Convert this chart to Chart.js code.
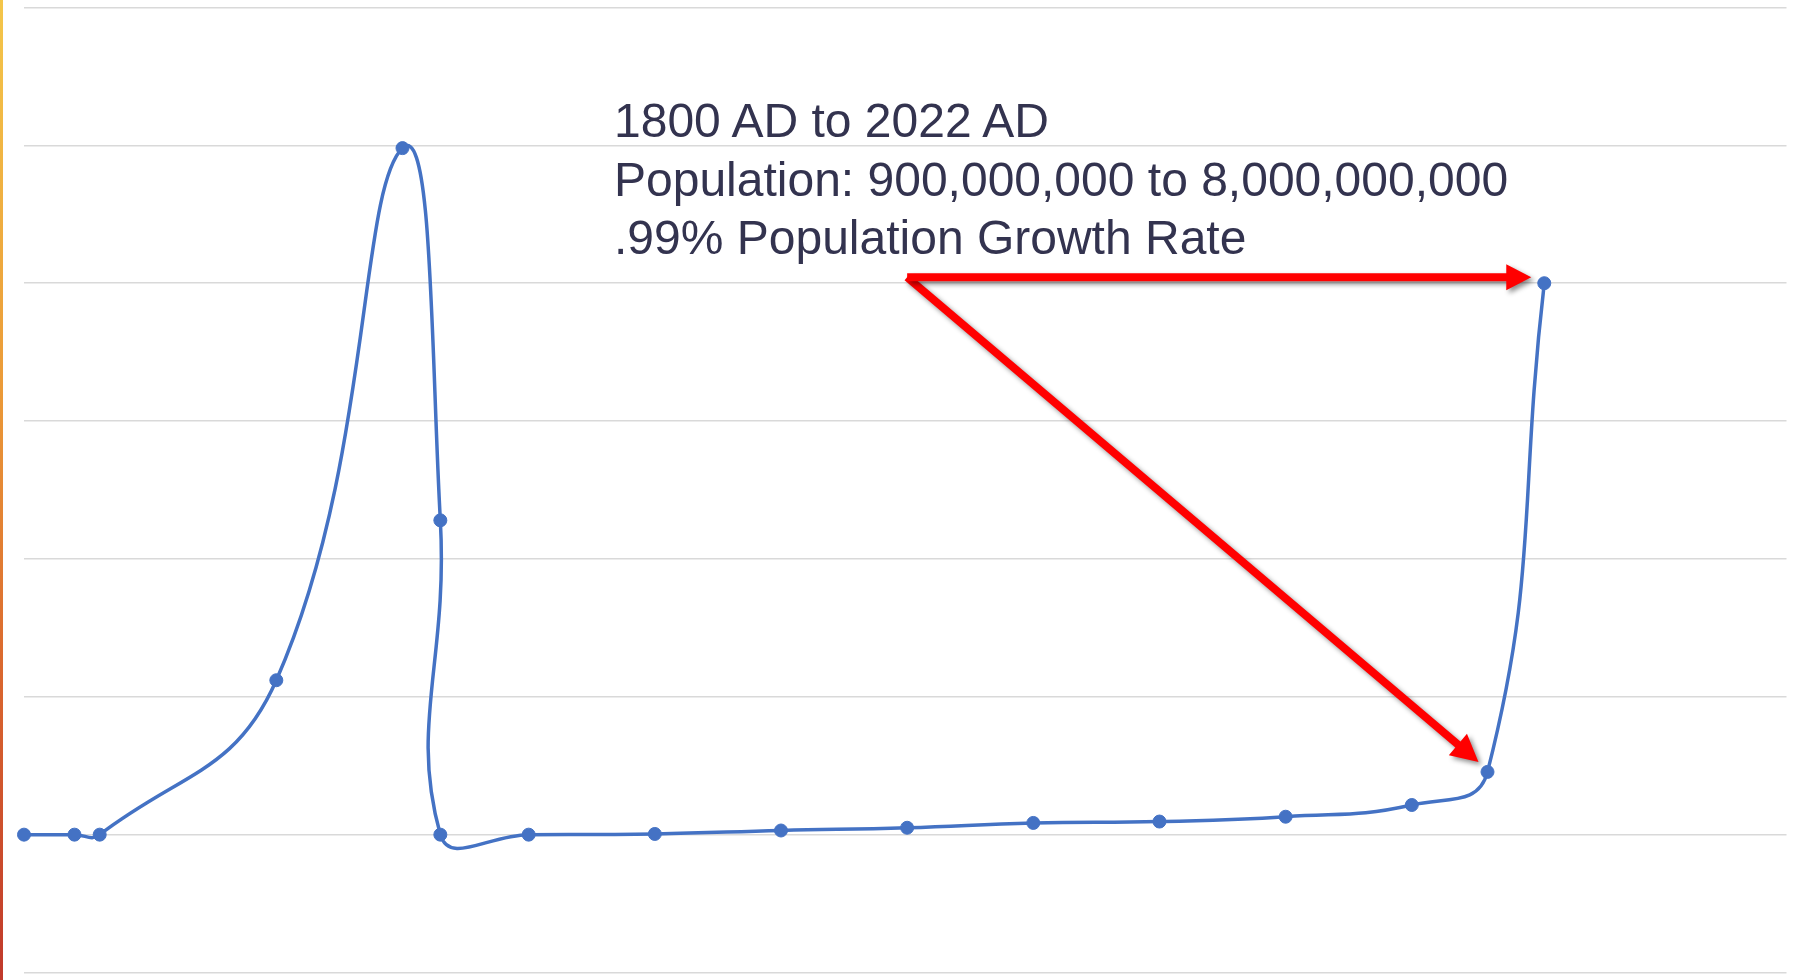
<!DOCTYPE html>
<html>
<head>
<meta charset="utf-8">
<script src="https://cdn.jsdelivr.net/npm/chart.js@4.4.1/dist/chart.umd.min.js"></script>
<style>
  html, body { margin: 0; padding: 0; background: #ffffff; overflow: hidden; }
  #wrap { position: relative; width: 1794px; height: 980px; }
  #stripe { position: absolute; left: 0; top: 0; width: 3px; height: 980px;
    background: linear-gradient(to bottom, #f4c64a 0%, #eb9a38 40%, #d9652e 70%, #c0392b 100%); }
  #note { position: absolute; left: 614px; top: 92px; font-family: "Liberation Sans", Arial, sans-serif;
    font-size: 48px; line-height: 58.5px; color: #33334f; white-space: nowrap; }
  canvas { position: absolute; left: 0; top: 0; }
</style>
</head>
<body>
<div id="wrap">
  <canvas id="c" width="1794" height="980"></canvas>
  <div id="stripe"></div>
  <div id="note">1800 AD to 2022 AD<br>Population: 900,000,000 to 8,000,000,000<br>.99% Population Growth Rate</div>
</div>
<script>
// Data
const xValues = [0, 0.4, 0.6, 2.0, 3.0, 3.3, 3.3, 4.0, 5.0, 6.0, 7.0, 8.0, 9.0, 10.0, 11.0, 11.6, 12.05];
const yValues = [0, 0, 0, 1.12, 4.98, 2.28, 0, 0, 0.005, 0.03, 0.05, 0.085, 0.095, 0.13, 0.215, 0.455, 4.0];
const yTicks = [-1, 0, 1, 2, 3, 4, 5, 6];
// Annotation anchors (indices into the series)
const arrowStartIndex = 10;
const arrowHorizontalTarget = 16;
const arrowDiagonalTarget = 15;

const points = xValues.map((x, i) => ({ x: x, y: yValues[i] }));

function drawArrow(ctx, x1, y1, x2, y2, shaftW, headLen, headHalf) {
  const ang = Math.atan2(y2 - y1, x2 - x1);
  const len = Math.hypot(x2 - x1, y2 - y1);
  ctx.save();
  ctx.translate(x1, y1);
  ctx.rotate(ang);
  ctx.beginPath();
  ctx.moveTo(0, -shaftW / 2);
  ctx.lineTo(len - headLen, -shaftW / 2);
  ctx.lineTo(len - headLen, -headHalf);
  ctx.lineTo(len, 0);
  ctx.lineTo(len - headLen, headHalf);
  ctx.lineTo(len - headLen, shaftW / 2);
  ctx.lineTo(0, shaftW / 2);
  ctx.closePath();
  ctx.fill();
  ctx.restore();
}

const arrowPlugin = {
  id: 'arrows',
  afterDatasetsDraw(chart) {
    const ctx = chart.ctx;
    const xs = chart.scales.x, ys = chart.scales.y;
    const sx = xs.getPixelForValue(xValues[arrowStartIndex]);
    const sy = ys.getPixelForValue(yValues[arrowHorizontalTarget]) - 6;
    const hx = xs.getPixelForValue(xValues[arrowHorizontalTarget]) - 13;
    const dx = xs.getPixelForValue(xValues[arrowDiagonalTarget]) - 9;
    const dy = ys.getPixelForValue(yValues[arrowDiagonalTarget]) - 10;
    ctx.save();
    ctx.fillStyle = '#ff0000';
    ctx.shadowColor = 'rgba(0,0,0,0.45)';
    ctx.shadowBlur = 5;
    ctx.shadowOffsetX = 3;
    ctx.shadowOffsetY = 3;
    drawArrow(ctx, sx, sy, dx, dy, 8, 27, 14);
    drawArrow(ctx, sx, sy, hx, sy, 8, 25, 13);
    ctx.restore();
  }
};

new Chart(document.getElementById('c'), {
  type: 'scatter',
  data: {
    datasets: [{
      data: points,
      showLine: true,
      clip: false,
      borderColor: '#4472c4',
      backgroundColor: '#4472c4',
      borderWidth: 3.5,
      pointRadius: 6.5,
      pointBorderWidth: 1,
      pointBorderColor: '#4472c4',
      pointBackgroundColor: '#4472c4',
      pointHoverRadius: 6.5,
      tension: 0.45,
      fill: false
    }]
  },
  options: {
    responsive: false,
    animation: false,
    events: [],
    layout: { padding: { left: 24, right: 0, top: 7, bottom: 2 } },
    plugins: { legend: { display: false }, tooltip: { enabled: false } },
    elements: {
      line: { capBezierPoints: false, borderWidth: 3.5 },
      point: { radius: 6.5, borderWidth: 1 }
    },
    scales: {
      x: {
        type: 'linear', min: 0, max: 13.97, display: false
      },
      y: {
        type: 'linear', min: yTicks[0], max: yTicks[yTicks.length - 1],
        afterBuildTicks: (s) => { s.ticks = yTicks.map(v => ({ value: v })); },
        afterFit: (s) => { s.width = 0; },
        ticks: { display: false },
        border: { display: false },
        grid: { color: '#d9d9d9', lineWidth: 1.5, drawTicks: false }
      }
    }
  },
  plugins: [arrowPlugin]
});
</script>
</body>
</html>
